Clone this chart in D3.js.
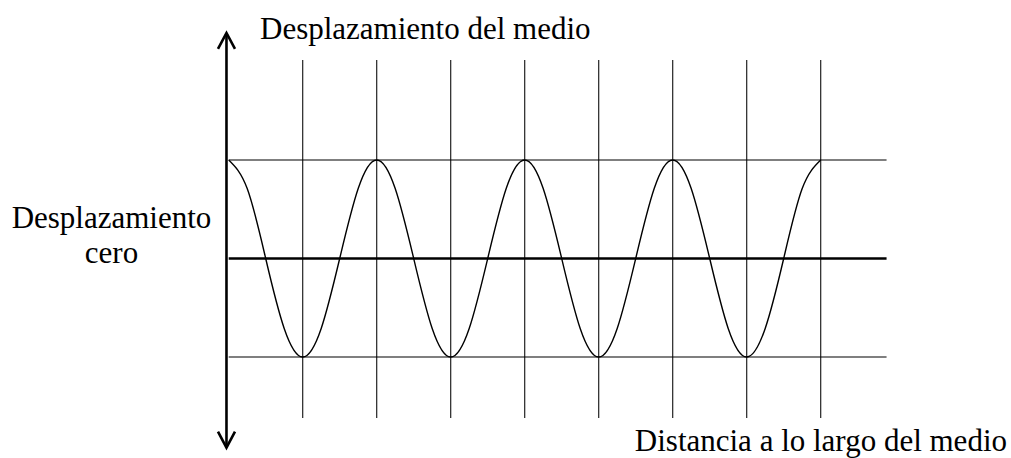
<!DOCTYPE html>
<html>
  <head>
    <title>Onda</title>
    <script type="text/javascript" src="https://d3js.org/d3.v7.min.js"></script>
    <style>
      body { margin: 0; background: #fff; }
      text { font-family: "Liberation Serif", "Times New Roman", serif; font-size: 31px; fill: #000; }
    </style>
  </head>
  <body>
    <svg width="1011" height="458" class="wave"></svg>

    <script type="text/javascript">
      // half-periods along the medium, grid lines at every crest / trough
      var gridX = [1, 2, 3, 4, 5, 6, 7, 8];
      // horizontal reference levels: crest, zero, trough
      var levels = [1, 0, -1];
      // wave samples (quarter half-period steps)
      var waveX = [0, 0.25, 0.5, 0.75, 1, 1.25, 1.5, 1.75, 2, 2.25, 2.5, 2.75, 3, 3.25, 3.5, 3.75,
                   4, 4.25, 4.5, 4.75, 5, 5.25, 5.5, 5.75, 6, 6.25, 6.5, 6.75, 7, 7.25, 7.5, 7.75, 8];
      var waveY = [1, 0.71, 0, -0.71, -1, -0.71, 0, 0.71, 1, 0.71, 0, -0.71, -1, -0.71, 0, 0.71,
                   1, 0.71, 0, -0.71, -1, -0.71, 0, 0.71, 1, 0.71, 0, -0.71, -1, -0.71, 0, 0.71, 1];
      var topLabel = 'Desplazamiento del medio';
      var leftLabel = ['Desplazamiento', 'cero'];
      var bottomLabel = 'Distancia a lo largo del medio';

      var x = d3.scaleLinear().domain([0, 8]).range([228.7, 820.7]);
      var y = d3.scaleLinear().domain([-1, 1]).range([357, 160]);

      var svg = d3.select('svg.wave');

      // vertical grid lines
      svg.selectAll('line.vgrid')
         .data(gridX)
         .enter()
         .append('line')
         .attr('class', 'vgrid')
         .attr('x1', function(d) { return x(d); })
         .attr('x2', function(d) { return x(d); })
         .attr('y1', y(2.015))
         .attr('y2', y(-1.62))
         .attr('stroke', '#222')
         .attr('stroke-width', 1.2);

      // horizontal levels, zero line is heavier
      svg.selectAll('line.level')
         .data(levels)
         .enter()
         .append('line')
         .attr('class', 'level')
         .attr('x1', x(0))
         .attr('x2', x(8.89))
         .attr('y1', function(d) { return y(d); })
         .attr('y2', function(d) { return y(d); })
         .attr('stroke', '#000')
         .attr('stroke-width', function(d) { return d === 0 ? 2.4 : 1.2; });

      // the wave
      var line = d3.line()
                   .x(function(d) { return x(d[0]); })
                   .y(function(d) { return y(d[1]); })
                   .curve(d3.curveNatural);
      svg.append('path')
         .datum(d3.zip(waveX, waveY))
         .attr('d', line)
         .attr('fill', 'none')
         .attr('stroke', '#000')
         .attr('stroke-width', 1.4);

      // vertical axis with arrows at both ends
      var axX = x(-0.03), axTop = y(2.29), axBot = y(-1.92);
      svg.append('line')
         .attr('x1', axX).attr('x2', axX)
         .attr('y1', axTop + 1).attr('y2', axBot - 1)
         .attr('stroke', '#000')
         .attr('stroke-width', 2.6);
      svg.append('path')
         .attr('d', 'M' + (axX - 8.5) + ',' + (axTop + 16) + 'L' + axX + ',' + axTop + 'L' + (axX + 8.5) + ',' + (axTop + 16))
         .attr('fill', 'none').attr('stroke', '#000').attr('stroke-width', 2.6);
      svg.append('path')
         .attr('d', 'M' + (axX - 8.5) + ',' + (axBot - 16) + 'L' + axX + ',' + axBot + 'L' + (axX + 8.5) + ',' + (axBot - 16))
         .attr('fill', 'none').attr('stroke', '#000').attr('stroke-width', 2.6);

      // labels
      svg.append('text')
         .attr('x', 260).attr('y', 39)
         .text(topLabel);
      svg.append('text')
         .attr('text-anchor', 'middle')
         .selectAll('tspan')
         .data(leftLabel)
         .enter()
         .append('tspan')
         .attr('x', 111.5)
         .attr('y', function(d, i) { return 228 + i * 35; })
         .text(function(d) { return d; });
      svg.append('text')
         .attr('text-anchor', 'end')
         .attr('x', 1007).attr('y', 451)
         .text(bottomLabel);
    </script>
  </body>
</html>
